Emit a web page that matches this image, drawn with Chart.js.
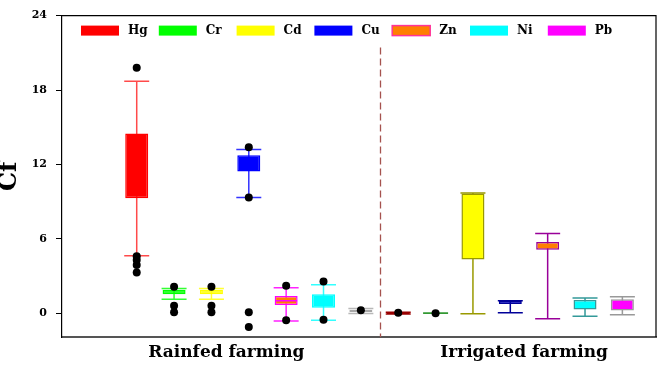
<!DOCTYPE html>
<html><head><meta charset="utf-8">
<script src="https://cdn.jsdelivr.net/npm/chart.js@4.4.1/dist/chart.umd.min.js"></script>
<style>html,body{margin:0;padding:0;background:#fff}#wrap{width:661px;height:365px}</style>
</head><body><div id="wrap"><canvas id="c" width="661" height="365"></canvas></div>
<script>
// ---------- data ----------
const metals  = ['Hg','Cr','Cd','Cu','Zn','Ni','Pb'];
const systems = ['Rainfed farming','Irrigated farming'];
const yTicks  = [0, 6, 12, 18, 24];

// Rainfed farming box statistics (Cf)
const rainfedLow  = [4.65, 1.15, 1.15, 9.35, -0.62, -0.55, 0.0];
const rainfedQ1   = [9.28, 1.54, 1.54, 11.44, 0.68, 0.45, 0.12];
const rainfedMed  = [null, null, null, null, 1.02, null, null];
const rainfedQ3   = [14.5, 1.9, 1.9, 12.75, 1.41, 1.54, 0.3];
const rainfedHigh = [18.7, 2.0, 2.0, 13.2, 2.06, 2.32, 0.4];
const rainfedOut  = [[19.8,4.6,4.3,3.9,3.3],[2.15,0.62,0.1],[2.15,0.62,0.1],[13.4,9.35,0.1,-1.1],[2.24,-0.55],[2.58,-0.5],[0.25]];

// Irrigated farming box statistics (Cf)
const irrigatedLow  = [-0.05, 0.02, -0.03, 0.05, -0.42, -0.23, -0.1];
const irrigatedQ1   = [-0.05, 0.0, 4.35, 0.76, 5.14, 0.31, 0.23];
const irrigatedMed  = [null, null, null, null, null, null, null];
const irrigatedQ3   = [0.1, 0.04, 9.67, 1.02, 5.76, 1.09, 1.15];
const irrigatedHigh = [0.1, 0.04, 9.7, 1.02, 6.44, 1.25, 1.35];
const irrigatedOut  = [[0.05],[0.02],[],[],[],[],[]];

// ---------- styles ----------
const fillR  = ['#ff0000','#00ff00','#ffff00','#0000ff','#ff7f00','#00ffff','#d4d4d4'];
const edgeR  = ['#ff0000','#00ff00','#ffff00','#0000ff','#ff00ff','#00ffff','#a8a8a8'];
const whiskR = ['#ff4a4a','#33ff33','#ffff33','#3333ff','#ff22ff','#33ffff','#b8b8b8'];
const fillI  = ['#e00000','#00ff00','#ffff00','#0000ee','#ff7f00','#00ffff','#ff00ff'];
const edgeI  = ['#990000','#339933','#999900','#000099','#990099','#339999','#999999'];
const legFill = ['#ff0000','#00ff00','#ffff00','#0000ff','#ff7f00','#00ffff','#ff00ff'];
const legEdge = [null,null,null,null,'#ff3399',null,null];
const SERIF = "'DejaVu Serif', serif";
const groupLabelAt = [2.4, 10.37];
const N = metals.length;

const boxSets = metals.map((m, i) => ({
  type: 'bar', label: m,
  data: [{x: i, y: [rainfedQ1[i], rainfedQ3[i]]}, {x: i + N, y: [irrigatedQ1[i], irrigatedQ3[i]]}],
  backgroundColor: [fillR[i], fillI[i]],
  borderColor: [edgeR[i], edgeI[i]],
  borderWidth: 1.5, borderSkipped: false, grouped: false,
  maxBarThickness: 23, barPercentage: 0.8, categoryPercentage: 1, order: 2
}));

const outlierPts = [];
rainfedOut.forEach((a, i) => a.forEach(v => outlierPts.push({x: i, y: v})));
irrigatedOut.forEach((a, i) => a.forEach(v => outlierPts.push({x: i + N, y: v})));

const groups = [
  {low: rainfedLow, high: rainfedHigh, med: rainfedMed, col: whiskR, edge: edgeR},
  {low: irrigatedLow, high: irrigatedHigh, med: irrigatedMed, col: edgeI, edge: edgeI}
];

const boxPlugin = {
  id: 'boxParts',
  beforeDatasetsDraw(chart) {
    const {ctx, scales: {x, y}} = chart;
    const cap = 25;
    ctx.save();
    ctx.lineWidth = 1.5;
    groups.forEach((g, s) => metals.forEach((m, i) => {
      const px = x.getPixelForValue(i + s * N);
      const lo = y.getPixelForValue(g.low[i]), hi = y.getPixelForValue(g.high[i]);
      ctx.strokeStyle = g.col[i];
      ctx.beginPath();
      ctx.moveTo(px, lo); ctx.lineTo(px, hi);
      ctx.moveTo(px - cap / 2, lo); ctx.lineTo(px + cap / 2, lo);
      ctx.moveTo(px - cap / 2, hi); ctx.lineTo(px + cap / 2, hi);
      ctx.stroke();
    }));
    ctx.restore();
  },
  afterDatasetDraw(chart, args) {
    const i = args.index;
    if (i >= N) return;
    const {ctx, scales: {x, y}} = chart;
    ctx.save();
    ctx.lineWidth = 1.5;
    groups.forEach((g, s) => {
      if (g.med[i] === null) return;
      const px = x.getPixelForValue(i + s * N), py = y.getPixelForValue(g.med[i]);
      ctx.strokeStyle = g.edge[i];
      ctx.beginPath(); ctx.moveTo(px - 11, py); ctx.lineTo(px + 11, py); ctx.stroke();
    });
    ctx.restore();
  },
  afterDraw(chart) {
    const {ctx, chartArea: a, scales: {x}} = chart;
    ctx.save();
    // frame (top & right)
    ctx.strokeStyle = '#000'; ctx.lineWidth = 1.2;
    ctx.beginPath(); ctx.moveTo(a.left, a.top); ctx.lineTo(a.right, a.top); ctx.lineTo(a.right, a.bottom); ctx.stroke();
    // divider
    const dx = Math.round(x.getPixelForValue(N - 0.5)) + 0.5;
    ctx.strokeStyle = '#a5524e'; ctx.lineWidth = 1.3; ctx.setLineDash([7, 4]);
    ctx.beginPath(); ctx.moveTo(dx, a.top + 32); ctx.lineTo(dx, a.bottom); ctx.stroke();
    ctx.setLineDash([]);
    // legend
    const step = 77.8, bw = 38, bh = 10, ly = a.top + 10;
    ctx.font = "bold 12px " + SERIF; ctx.textBaseline = 'middle'; ctx.textAlign = 'left';
    metals.forEach((m, i) => {
      const lx = a.left + 19 + i * step;
      ctx.fillStyle = legFill[i]; ctx.fillRect(lx, ly, bw, bh);
      if (legEdge[i]) { ctx.strokeStyle = legEdge[i]; ctx.lineWidth = 1.5; ctx.strokeRect(lx, ly, bw, bh); }
      ctx.fillStyle = '#000'; ctx.fillText(m, lx + bw + 9, ly + bh / 2 + 0.5);
    });
    ctx.restore();
  }
};

new Chart(document.getElementById('c'), {
  type: 'bar',
  data: {
    datasets: [
      {type: 'scatter', label: 'outliers', data: outlierPts, pointRadius: 4, pointHoverRadius: 4,
       backgroundColor: '#000', borderColor: '#000', borderWidth: 0, order: 0},
      ...boxSets
    ]
  },
  options: {
    responsive: false, animation: false, devicePixelRatio: 1,
    layout: {padding: {top: 5, right: 5, left: 0, bottom: 0}},
    plugins: {legend: {display: false}, tooltip: {enabled: false}},
    scales: {
      x: {
        type: 'linear', min: -2, max: 13.9, offset: false,
        grid: {display: false, drawTicks: false, offset: false},
        border: {display: true, color: '#555', width: 2},
        afterBuildTicks: s => { s.ticks = groupLabelAt.map(v => ({value: v})); },
        afterFit: s => { s.height = 28; },
        ticks: {autoSkip: false, maxRotation: 0, padding: 5, color: '#000',
                font: {family: SERIF, size: 17, weight: 'bold'},
                callback: (v, idx) => systems[idx]}
      },
      y: {
        type: 'linear', min: -1.9, max: 24,
        grid: {drawOnChartArea: false, drawTicks: true, tickLength: 6, color: '#000'},
        border: {display: true, color: '#000', width: 1.2},
        afterBuildTicks: s => { s.ticks = yTicks.map(v => ({value: v})); },
        afterFit: s => { s.width = 62; },
        ticks: {padding: 9, color: '#000', font: {family: SERIF, size: 11, weight: 'bold'}},
        title: {display: true, text: 'Cf', color: '#000', padding: 0,
                font: {family: SERIF, size: 24, weight: 'bold', lineHeight: 0.85}}
      }
    }
  },
  plugins: [boxPlugin]
});
</script></body></html>
